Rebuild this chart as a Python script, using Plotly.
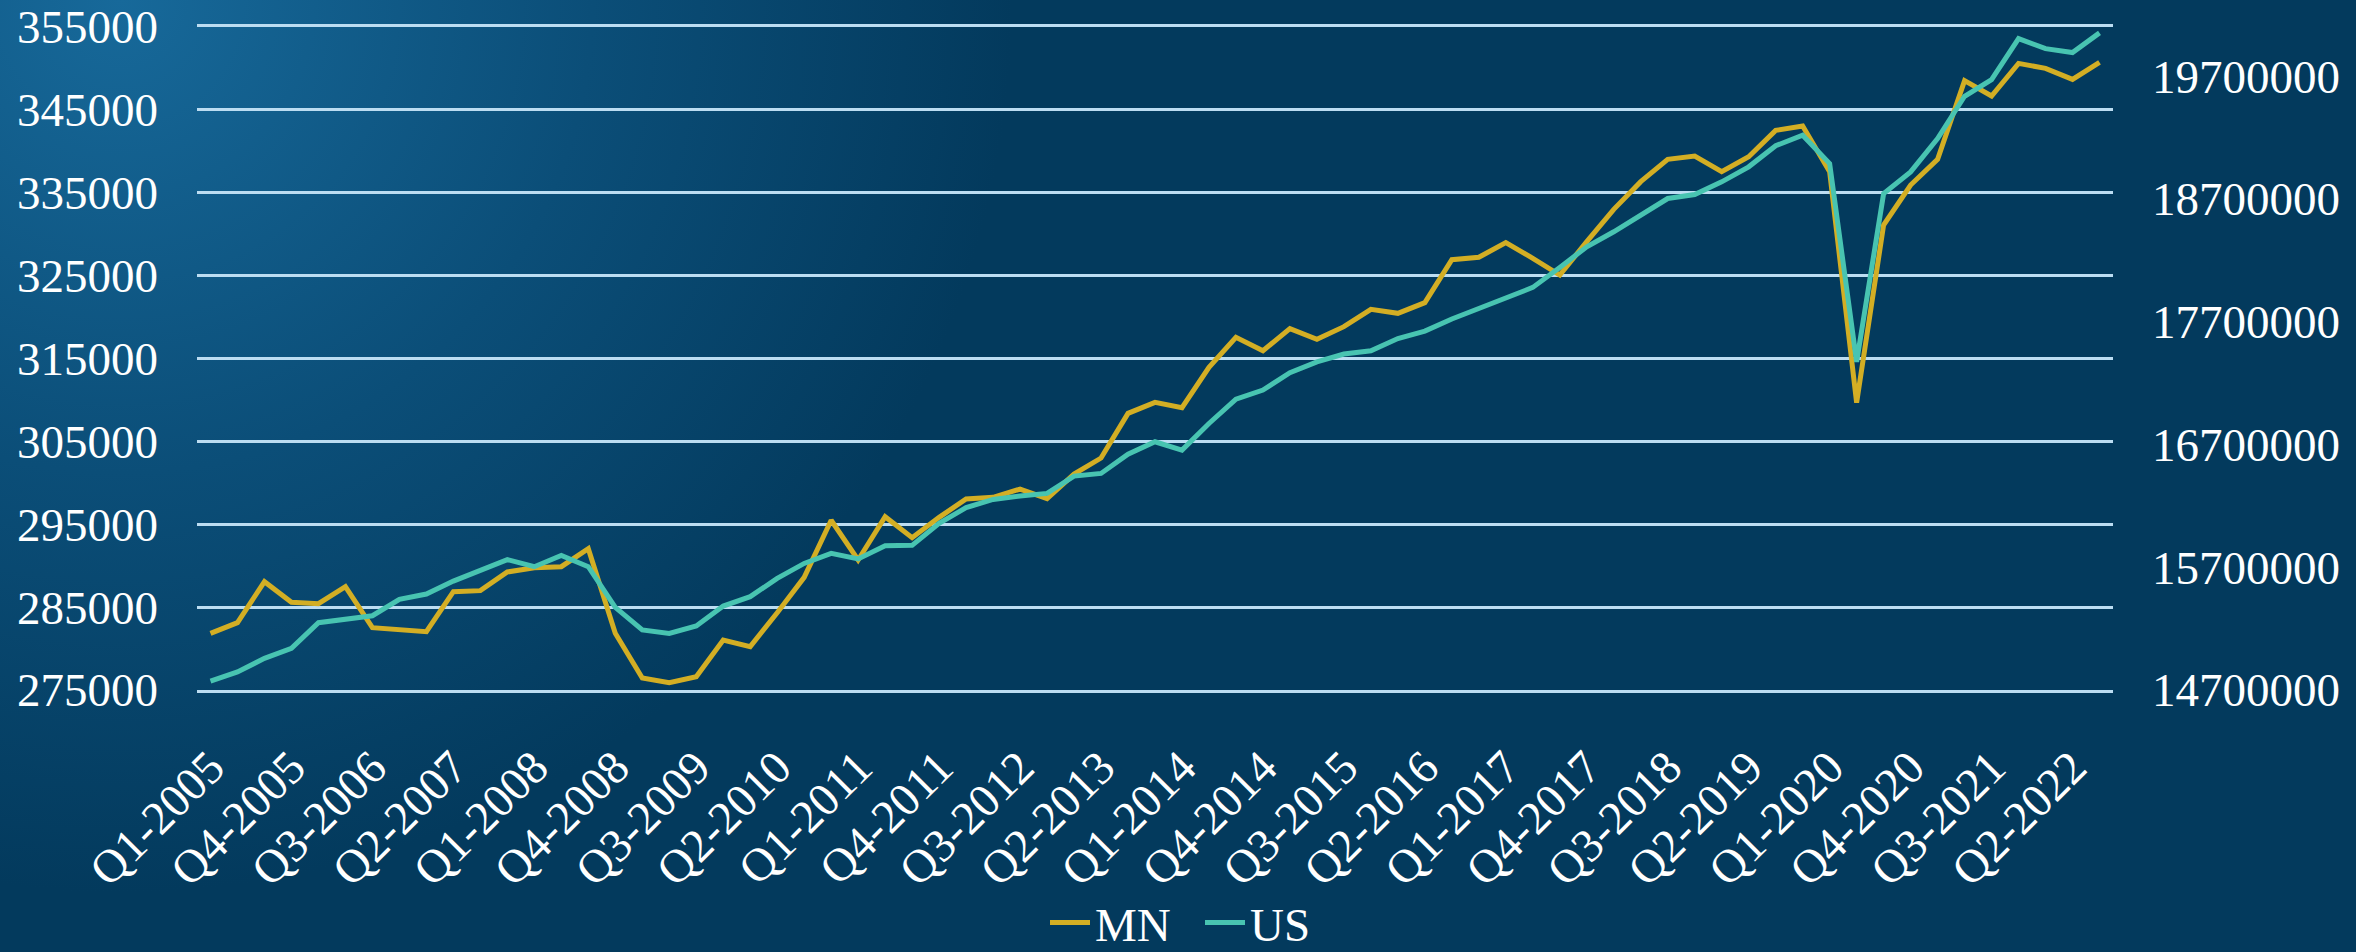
import base64
import plotly.graph_objects as go

# Quarterly categories Q1-2005 .. Q3-2022
quarters = [f"Q{q}-{y}" for y in range(2005, 2023) for q in range(1, 5)][:71]
tick_labels = quarters[::3]

mn = [
    281840, 283130, 288070, 285580, 285420, 287470, 282520, 282280, 282040, 286870,
    286990, 289240, 289760, 289880, 292050, 281840, 276450, 275890, 276610, 281030,
    280230, 284330, 288590, 295480, 290690, 295910, 293380, 295830, 298050, 298250,
    299250, 298090, 301060, 302990, 308380, 309710, 309070, 313930, 317550, 315940,
    318600, 317310, 318840, 320930, 320450, 321740, 326920, 327210, 328980, 327090,
    325070, 329100, 333000, 336340, 339030, 339430, 337540, 339350, 342530, 343050,
    337540, 309670, 331110, 335930, 339030, 348520, 346670, 350610, 350010, 348680,
    350730,
]

us = [
    14773000, 14847000, 14958000, 15039000, 15248000, 15278000, 15305000, 15438000, 15482000, 15587000,
    15677000, 15762000, 15704000, 15796000, 15704000, 15373000, 15189000, 15161000, 15221000, 15384000,
    15460000, 15609000, 15731000, 15813000, 15767000, 15875000, 15878000, 16057000, 16185000, 16252000,
    16280000, 16301000, 16442000, 16464000, 16620000, 16722000, 16654000, 16871000, 17069000, 17143000,
    17284000, 17373000, 17436000, 17463000, 17563000, 17623000, 17722000, 17808000, 17889000, 17979000,
    18141000, 18310000, 18432000, 18567000, 18703000, 18736000, 18839000, 18961000, 19133000, 19219000,
    18988000, 17373000, 18744000, 18920000, 19192000, 19536000, 19672000, 20006000, 19924000, 19892000,
    20052000,
]

left_ticks = list(range(275000, 355001, 10000))
right_ticks = list(range(14700000, 19700001, 1000000))

W, H = 2356, 952
L, R, T, B = 197, 243, 27, 262
FONT = "Liberation Serif, Times New Roman, serif"
GRID = "#BCDDF2"

# background: soft radial glow in the top-left corner
svg = f"""<svg xmlns='http://www.w3.org/2000/svg' width='{W}' height='{H}' viewBox='0 0 {W} {H}' preserveAspectRatio='none'>
<defs><radialGradient id='g' gradientUnits='userSpaceOnUse' cx='120' cy='0' r='1050'>
<stop offset='0' stop-color='#17699A'/><stop offset='0.45' stop-color='#0B4E78'/>
<stop offset='0.85' stop-color='#033A5D'/><stop offset='1' stop-color='#033A5D'/></radialGradient></defs>
<rect width='{W}' height='{H}' fill='url(#g)'/></svg>"""
bg_uri = "data:image/svg+xml;base64," + base64.b64encode(svg.encode()).decode()

pw, ph = W - L - R, H - T - B

fig = go.Figure()

fig.add_trace(go.Scatter(
    x=quarters, y=mn, name="MN", mode="lines",
    line=dict(color="#D3AE24", width=5),
    yaxis="y"
))

fig.add_trace(go.Scatter(
    x=quarters, y=us, name="US", mode="lines",
    line=dict(color="#48C4B1", width=5),
    yaxis="y2"
))

fig.update_layout(
    width=W, height=H,
    margin=dict(l=L, r=R, t=T, b=B, autoexpand=False),
    paper_bgcolor="#033A5D",
    plot_bgcolor="rgba(0,0,0,0)",
    font=dict(family=FONT, size=47, color="white"),
    showlegend=True,
    legend=dict(
        orientation="h", xref="container", yref="container",
        x=1200 / W, xanchor="center", y=1 - 923 / H, yanchor="middle",
        font=dict(family=FONT, size=47, color="white"),
        bgcolor="rgba(0,0,0,0)", itemwidth=40,
        entrywidth=100, entrywidthmode="pixels",
    ),
    images=[dict(
        source=bg_uri, xref="paper", yref="paper",
        x=-L / pw, y=1 + T / ph, sizex=W / pw, sizey=H / ph,
        xanchor="left", yanchor="top", sizing="stretch", layer="below",
    )],
    xaxis=dict(
        type="category", range=[-0.5, len(quarters) - 0.5],
        tickmode="array", tickvals=tick_labels, ticktext=tick_labels,
        tickangle=-45, showgrid=False, zeroline=False,
        showline=True, mirror=True, linecolor=GRID, linewidth=2.5,
        ticks="", ticklabelstandoff=28, automargin=False,
    ),
    yaxis=dict(
        range=[275000, 355000], tickmode="array", tickvals=left_ticks,
        tickformat="d", showgrid=True, gridcolor=GRID, gridwidth=2.5,
        zeroline=False, showline=False, ticks="", ticklabelstandoff=38,
        automargin=False,
    ),
    yaxis2=dict(
        range=[14700000, 20100000], tickmode="array", tickvals=right_ticks,
        tickformat="d", overlaying="y", side="right", showgrid=False,
        zeroline=False, showline=False, ticks="", ticklabelstandoff=38,
        automargin=False,
    ),
)

fig.write_html(
    "out.html",
    config={"displayModeBar": False},
    post_script="document.body.style.margin='0';",
)
